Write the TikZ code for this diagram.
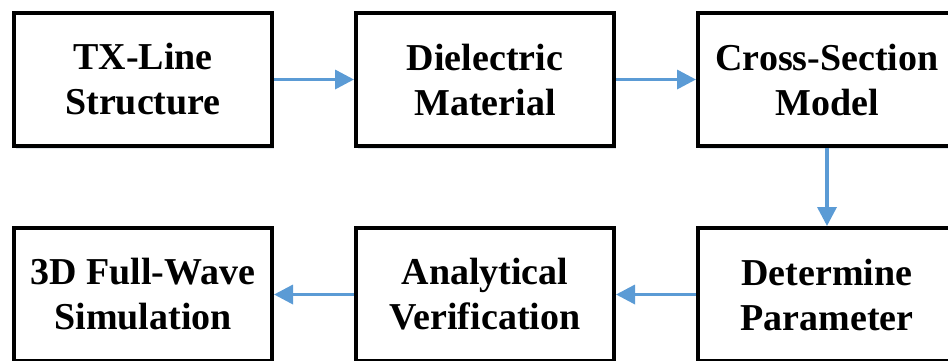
\documentclass[tikz,border=0pt]{standalone}
\usepackage{fontspec}
\setmainfont{Liberation Serif}
\usetikzlibrary{arrows.meta, positioning, shadows}
\definecolor{FlowBlue}{HTML}{5B9BD5}
\definecolor{ShadeGray}{HTML}{C9D3DE}
\tikzset{
  stagebox/.style={draw=black, line width=4pt, fill=white, align=center, minimum width=258pt, minimum height=133pt, inner sep=2pt, font=\fontsize{38}{45}\selectfont\bfseries, drop shadow={shadow xshift=2pt, shadow yshift=-3pt, fill=ShadeGray, opacity=0.6}},
  flowarrow/.style={-{Triangle[length=19pt, width=19pt]}, line width=3.5pt, draw=FlowBlue}
}
\begin{document}
\begin{tikzpicture}
\useasboundingbox (0,0) rectangle (948pt,-360pt);
\node[stagebox] (txline) at (143pt,-79.5pt) {TX-Line\\Structure};
\node[stagebox, right=80pt of txline] (dielec) {Dielectric\\Material};
\node[stagebox, right=80pt of dielec] (cross) {Cross-Section\\Model};
\node[stagebox, below=78pt of cross] (param) {Determine\\Parameter};
\node[stagebox, left=80pt of param] (verif) {Analytical\\Verification};
\node[stagebox, left=80pt of verif] (fullwave) {3D Full-Wave\\Simulation};
\draw[flowarrow] (txline) -- (dielec);
\draw[flowarrow] (dielec) -- (cross);
\draw[flowarrow] (cross) -- (param);
\draw[flowarrow] (param) -- (verif);
\draw[flowarrow] (verif) -- (fullwave);
\end{tikzpicture}
\end{document}
